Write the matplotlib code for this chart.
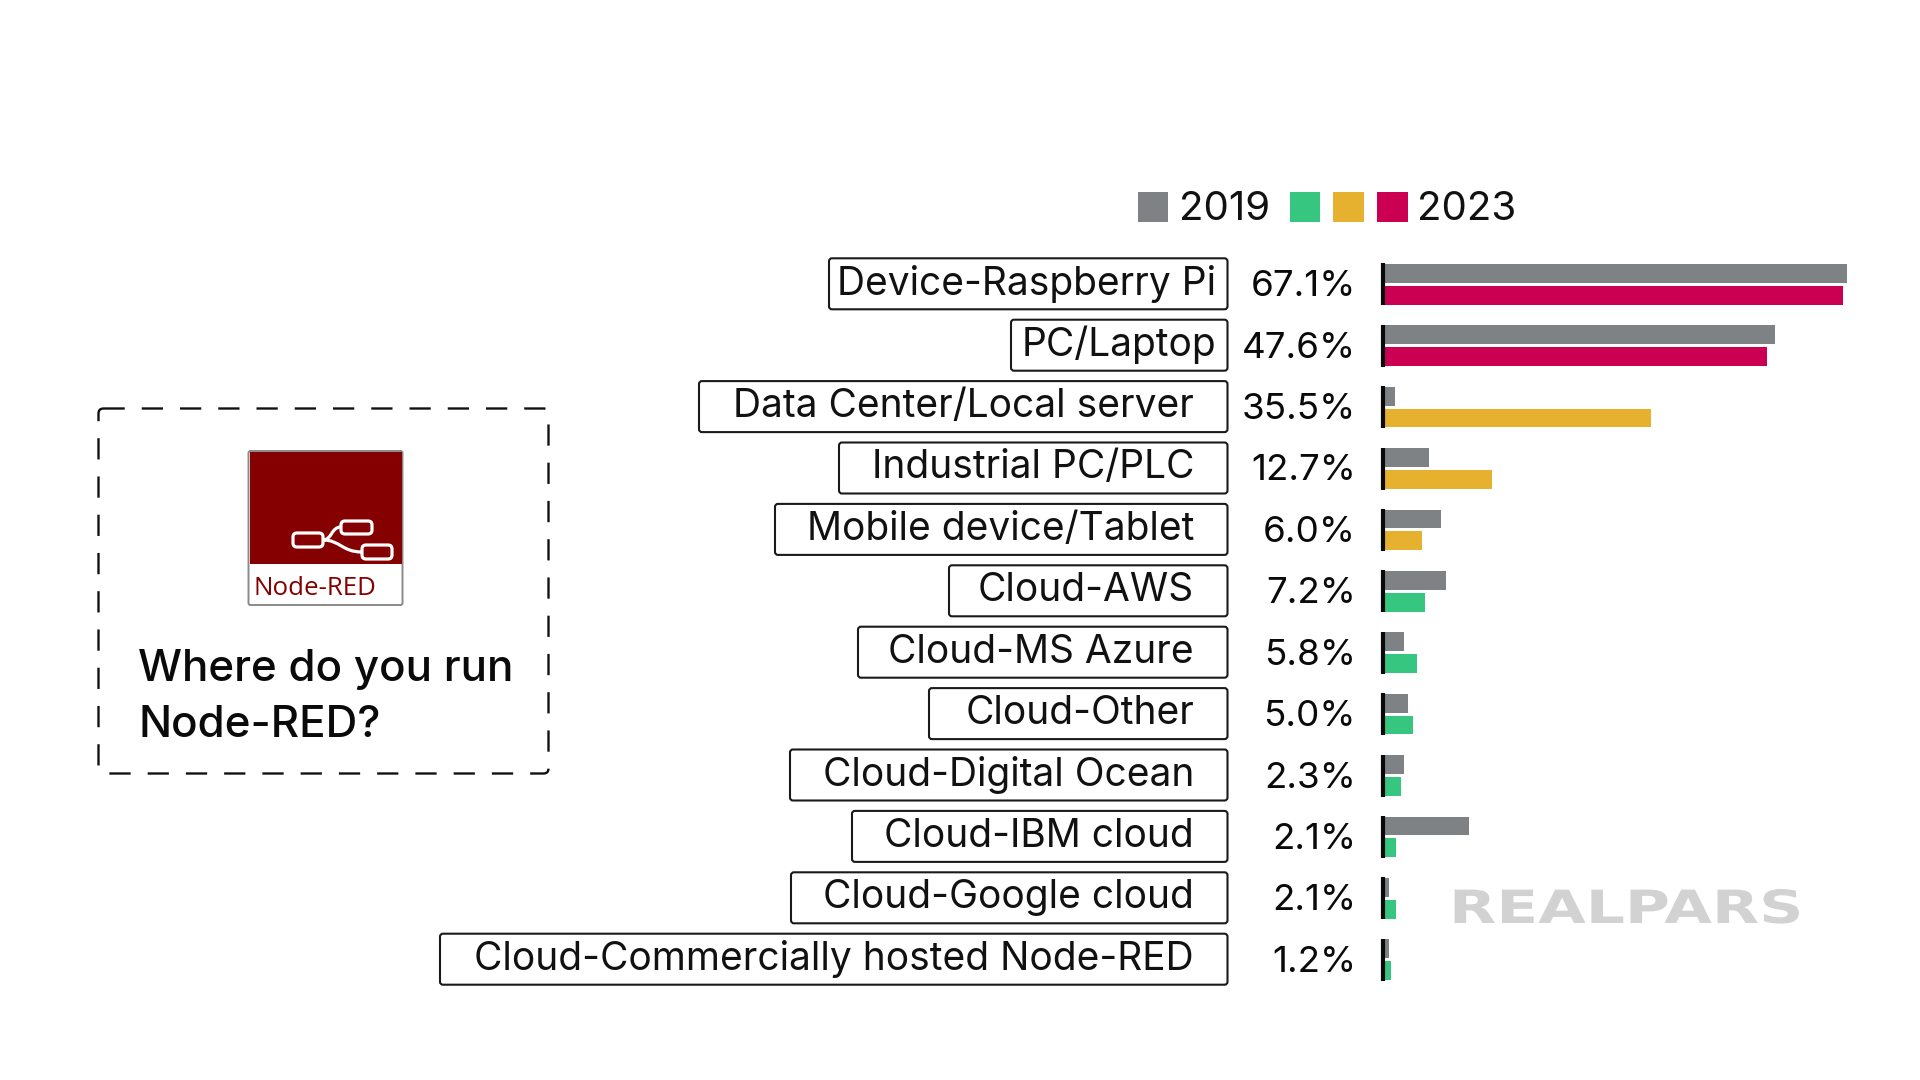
from __future__ import annotations

import matplotlib
import numpy as np
from matplotlib.patches import FancyBboxPatch, PathPatch, Rectangle
from matplotlib.patheffects import AbstractPathEffect
from matplotlib.path import Path
from matplotlib.transforms import Affine2D

matplotlib.use("Agg")
import matplotlib.pyplot as plt

plt.rcParams["font.family"] = ["Inter", "DejaVu Sans"]

LABELS = [
    "Device-Raspberry Pi",
    "PC/Laptop",
    "Data Center/Local server",
    "Industrial PC/PLC",
    "Mobile device/Tablet",
    "Cloud-AWS",
    "Cloud-MS Azure",
    "Cloud-Other",
    "Cloud-Digital Ocean",
    "Cloud-IBM cloud",
    "Cloud-Google cloud",
    "Cloud-Commercially hosted Node-RED",
]
VALUE_LABELS = ["67.1%", "47.6%", "35.5%", "12.7%", "6.0%", "7.2%", "5.8%", "5.0%", "2.3%", "2.1%", "2.1%", "1.2%"]
VALUES_2019 = [67.7, 57.2, 1.5, 6.6, 8.3, 9.0, 2.9, 3.5, 2.9, 12.4, 0.7, 0.7]
VALUES_2023 = [67.1, 56.1, 39.0, 15.8, 5.5, 6.0, 4.8, 4.2, 2.4, 1.7, 1.7, 1.0]
GROUPS = ["device", "device", "server", "server", "server", "cloud", "cloud", "cloud", "cloud", "cloud", "cloud", "cloud"]

GRAY = "#7f8284"
GROUP_COLORS = {"device": "#cc0052", "server": "#e5b12f", "cloud": "#37c67f"}
DARK_RED = "#850000"

# layout, in pixels of the 1920x1080 frame
BOX_LEFT = [829, 1011, 699, 839, 775, 949, 858, 929, 790, 852, 791, 440]
BOX_RIGHT = 1227.5
TEXT_RIGHT = [1216, 1216] + [1194] * 10
ROW_TOP = 284.3
ROW_STEP = 61.4
PX_PER_UNIT = 6.83
BASE_X = 1384.3


class StretchX(AbstractPathEffect):
    # widen text about a fixed pixel column, the watermark letters are very wide
    def __init__(self, anchor, factor):
        super().__init__()
        self.stretch = Affine2D().translate(-anchor, 0).scale(factor, 1).translate(anchor, 0)

    def draw_path(self, renderer, gc, tpath, affine, rgbFace=None):
        renderer.draw_path(gc, tpath, affine + self.stretch, rgbFace)


def rounded_box(ax, x0, y0, x1, y1, radius=3, **kwargs):
    box = FancyBboxPatch(
        (x0, y0),
        x1 - x0,
        y1 - y0,
        boxstyle=f"round,pad=0,rounding_size={radius}",
        **kwargs,
    )
    ax.add_patch(box)
    return box


def draw_logo(ax):
    rounded_box(ax, 248.5, 451, 402.5, 605, radius=2, fc="white", ec="#8a8a8a", lw=1.4)
    ax.add_patch(Rectangle((249.5, 452), 152, 112, fc=DARK_RED, ec="none"))
    for x0, y0, x1, y1 in [(293, 533, 323, 547), (341, 521, 372, 534), (362, 545, 392, 559)]:
        rounded_box(ax, x0, y0, x1, y1, radius=4, fc=DARK_RED, ec="white", lw=2.3, zorder=3)
    wires = Path(
        [(323, 540), (332, 540), (331, 527), (341, 527), (323, 540), (340, 540), (342, 552), (362, 552)],
        [Path.MOVETO, Path.CURVE4, Path.CURVE4, Path.CURVE4, Path.MOVETO, Path.CURVE4, Path.CURVE4, Path.CURVE4],
    )
    ax.add_patch(PathPatch(wires, fc="none", ec="white", lw=2.3, zorder=2))
    ax.text(254, 595, "Node-RED", color=DARK_RED, fontsize=18.6, family="Open Sans", ha="left", va="baseline")


def main() -> None:
    fig = plt.figure(figsize=(19.2, 10.8), dpi=100, facecolor="white")

    # full-frame overlay for boxes, captions and legend
    over = fig.add_axes([0, 0, 1, 1])
    over.set_xlim(0, 1920)
    over.set_ylim(1080, 0)
    over.axis("off")

    rows = np.arange(len(LABELS))
    row_y = ROW_TOP + ROW_STEP * rows

    # bar axes lined up with the rows
    left_px = BASE_X - PX_PER_UNIT
    right_px = 1900
    top_px = ROW_TOP - ROW_STEP / 2
    bottom_px = row_y[-1] + ROW_STEP / 2
    ax = fig.add_axes([left_px / 1920, 1 - bottom_px / 1080, (right_px - left_px) / 1920, (bottom_px - top_px) / 1080])
    ax.set_xlim(-1, (right_px - BASE_X) / PX_PER_UNIT)
    ax.set_ylim(len(LABELS) - 0.5, -0.5)
    ax.axis("off")

    bar_h = 18.8 / ROW_STEP
    shift = 10.9 / ROW_STEP
    ax.barh(rows - shift, VALUES_2019, height=bar_h, color=GRAY)
    ax.barh(rows + shift, VALUES_2023, height=bar_h, color=[GROUP_COLORS[g] for g in GROUPS])
    ax.vlines(
        np.full(len(rows), -0.2),
        rows - 21 / ROW_STEP,
        rows + 21 / ROW_STEP,
        color="#0a0a0a",
        lw=3.0,
    )

    for i, y in enumerate(row_y):
        rounded_box(over, BOX_LEFT[i], y - 26, BOX_RIGHT, y + 25, fc="white", ec="#1a1a1a", lw=1.5)
        over.text(TEXT_RIGHT[i], y - 0.5, LABELS[i], fontsize=28, color="#111111", ha="right", va="center")
        over.text(1356, y + 2.5, VALUE_LABELS[i], fontsize=26.5, color="#0a0a0a", ha="right", va="center")

    # legend
    for x0, color in [(1137.5, GRAY), (1289.5, GROUP_COLORS["cloud"]), (1333, GROUP_COLORS["server"]), (1377, GROUP_COLORS["device"])]:
        over.add_patch(Rectangle((x0, 192), 30.5, 30, fc=color, ec="none"))
    over.text(1179, 209.5, "2019", fontsize=29, color="#111111", ha="left", va="center")
    over.text(1417, 209.5, "2023", fontsize=29, color="#111111", ha="left", va="center")

    # question panel
    rounded_box(
        over, 98.5, 408.5, 548.5, 773.5, radius=5, fc="none", ec="#111111", lw=1.7,
        linestyle=(0, (9, 7.2)),
    )
    draw_logo(over)
    over.text(138, 681, "Where do you run", fontsize=31.6, fontweight=500, color="#0a0a0a", ha="left", va="baseline")
    over.text(138, 737, "Node-RED?", fontsize=31.6, fontweight=500, color="#0a0a0a", ha="left", va="baseline")

    # watermark
    over.text(
        1449, 923, "REALPARS", fontsize=33, fontweight="bold", family="DejaVu Sans", color="#d2d2d2",
        ha="left", va="baseline", path_effects=[StretchX(1449, 1.34)],
    )

    fig.savefig("out.png", dpi=100, facecolor="white")
    plt.close(fig)


if __name__ == "__main__":
    main()
